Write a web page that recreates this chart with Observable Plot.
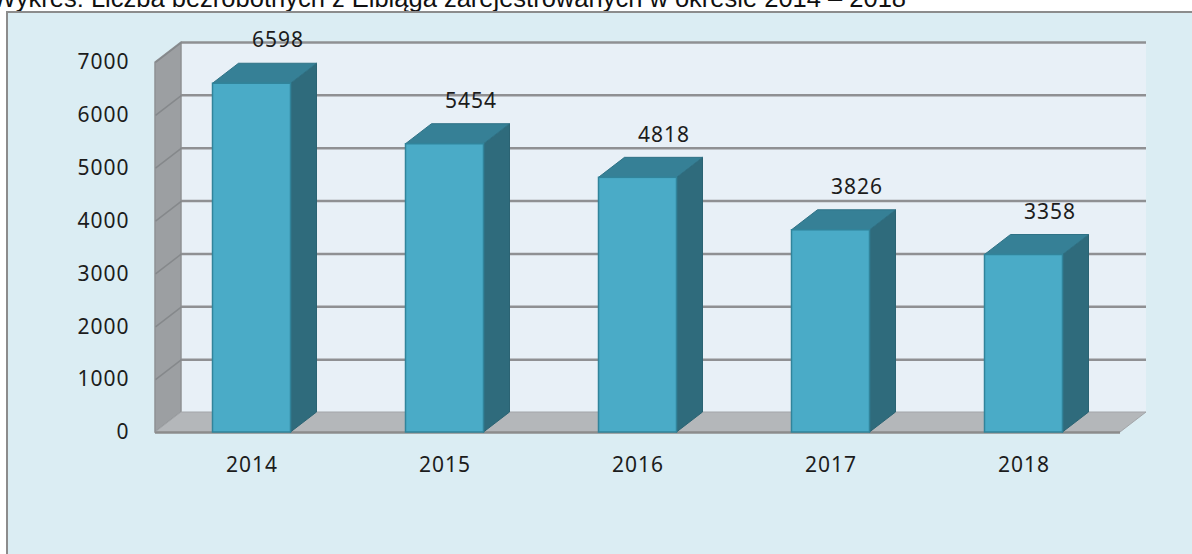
<!DOCTYPE html>
<html>
<head>
<meta charset="utf-8">
<script src="https://cdn.jsdelivr.net/npm/d3@7"></script>
<script src="https://cdn.jsdelivr.net/npm/@observablehq/plot@0.6"></script>
<style>
  html, body { margin: 0; padding: 0; background: #ffffff; width: 1192px; height: 554px; overflow: hidden; position: relative; }
  #title { position: absolute; left: -8px; top: -13.6px; font-family: "Liberation Sans", Arial, sans-serif; font-size: 25.5px; line-height: 25.5px; color: #111; white-space: nowrap; }
  #frame { position: absolute; left: 6px; top: 11px; width: 1300px; height: 700px; background: #dbedf3; border-left: 2px solid #8c8c8c; border-top: 2px solid #8c8c8c; }
  #chart { position: absolute; left: 0; top: 0; }
</style>
</head>
<body>
<div id="title">Wykres: Liczba bezrobotnych z Elbląga zarejestrowanych w okresie 2014 – 2018</div>
<div id="frame"></div>
<div id="chart"></div>
<script>
// ---- data ----
const years = ["2014", "2015", "2016", "2017", "2018"];
const values = [6598, 5454, 4818, 3826, 3358];
const yTicks = [0, 1000, 2000, 3000, 4000, 5000, 6000, 7000];

// ---- layout constants (3D depth expressed in scale units) ----
const Y_MAX = 7000;
const N = years.length;
const BAND_PX = 193;
const PX_PER_UNIT = 370 / Y_MAX;
const DX = 26 / BAND_PX;          // horizontal depth in band units
const DY = 20 / PX_PER_UNIT;      // vertical depth in value units
const BW = 78 / BAND_PX;          // bar width in band units

const rows = years.map((year, i) => ({
  year, value: values[i], c: i + 0.5, x0: i + 0.5 - BW / 2, x1: i + 0.5 + BW / 2
}));

const sidePts = rows.flatMap(d => [
  {year: d.year, x: d.x1, y1: 0, y2: d.value},
  {year: d.year, x: d.x1 + DX, y1: DY, y2: d.value + DY}
]);
const topPts = rows.flatMap(d => [
  {year: d.year, y: d.value, x1: d.x0, x2: d.x1},
  {year: d.year, y: d.value + DY, x1: d.x0 + DX, x2: d.x1 + DX}
]);

const plot = Plot.plot({
  width: 1192,
  height: 554,
  marginLeft: 155,
  marginRight: 72,
  marginTop: 62,
  marginBottom: 122,
  style: {background: "transparent", fontFamily: "'Noto Sans', 'Open Sans', sans-serif", fontSize: "21px", letterSpacing: "1px", color: "#1c1c1c", overflow: "visible"},
  x: {domain: [0, N], label: null},
  y: {domain: [0, Y_MAX], label: null},
  marks: [
    // back wall
    Plot.rect([{}], {x1: () => DX, x2: () => N + DX, y1: () => DY, y2: () => Y_MAX + DY, fill: "#e8f0f7"}),
    // left wall
    Plot.areaY([{x: 0, y1: 0, y2: Y_MAX}, {x: DX, y1: DY, y2: Y_MAX + DY}], {x: "x", y1: "y1", y2: "y2", fill: "#9c9fa2", stroke: "#8e9194", strokeWidth: 1.5}),
    // floor
    Plot.areaX([{y: 0, x1: 0, x2: N}, {y: DY, x1: DX, x2: N + DX}], {y: "y", x1: "x1", x2: "x2", fill: "#b4b7ba", stroke: "#a3a6a9", strokeWidth: 1}),
    // back gridlines
    Plot.ruleY(yTicks.filter(t => t > 0), {y: t => t + DY, x1: () => DX, x2: () => N + DX, stroke: "#8f9093", strokeWidth: 2.5}),
    // left wall diagonals
    Plot.link(yTicks.filter(t => t > 0), {x1: () => 0, y1: t => t, x2: () => DX, y2: t => t + DY, stroke: "#85888b", strokeWidth: 1.5}),
    // front base line
    Plot.ruleY([0], {x1: () => 0, x2: () => N, stroke: "#8c8c8c", strokeWidth: 2.5}),
    // bar side faces
    Plot.areaY(sidePts, {x: "x", y1: "y1", y2: "y2", z: "year", fill: "#2f6b7c", stroke: "#2b6373", strokeWidth: 1}),
    // bar top faces
    Plot.areaX(topPts, {y: "y", x1: "x1", x2: "x2", z: "year", fill: "#368096", stroke: "#2f7286", strokeWidth: 1}),
    // bar front faces
    Plot.rect(rows, {x1: "x0", x2: "x1", y1: () => 0, y2: "value", fill: "#4aabc7", stroke: "#31849b", strokeWidth: 1.5}),
    // value labels
    Plot.text(rows, {x: d => d.c + DX, y: d => d.value + DY, text: d => String(d.value), dy: -23, lineAnchor: "middle", fill: "#1c1c1c"}),
    // axes
    Plot.axisY(yTicks, {tickSize: 0, tickPadding: 26, label: null, tickFormat: d => String(d)}),
    Plot.axisX(rows.map(d => d.c), {tickSize: 0, tickPadding: 25, label: null, tickFormat: d => years[Math.floor(d)]})
  ]
});
document.getElementById("chart").appendChild(plot);
</script>
</body>
</html>
